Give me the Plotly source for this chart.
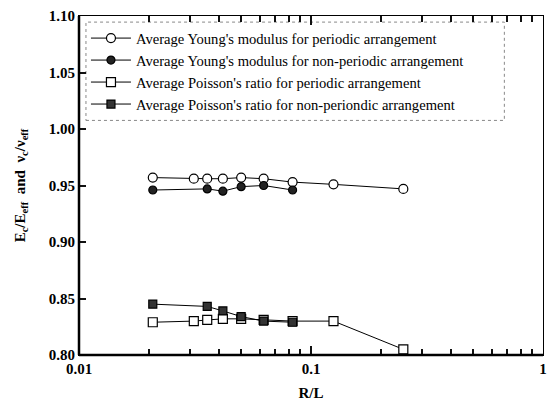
import plotly.graph_objects as go

# Data
rl_periodic = [0.0208, 0.03125, 0.0357, 0.0417, 0.05, 0.0625, 0.0833, 0.125, 0.25]
rl_nonperiodic = [0.0208, 0.0357, 0.0417, 0.05, 0.0625, 0.0833]

young_periodic = [0.957, 0.956, 0.956, 0.956, 0.957, 0.956, 0.953, 0.951, 0.947]
young_nonperiodic = [0.946, 0.947, 0.945, 0.949, 0.950, 0.946]
poisson_periodic = [0.829, 0.830, 0.831, 0.832, 0.832, 0.831, 0.830, 0.830, 0.805]
poisson_nonperiodic = [0.845, 0.843, 0.839, 0.834, 0.830, 0.829]

names = [
    "Average Young's modulus for periodic arrangement",
    "Average Young's modulus for non-periodic arrangement",
    "Average Poisson's ratio for periodic arrangement",
    "Average Poisson's ratio for non-periondic arrangement",
]

x_major = [0.01, 0.1, 1]
x_major_text = ["<b>0.01</b>", "<b>0.1</b>", "<b>1</b>"]
x_minor = [0.02, 0.03, 0.04, 0.05, 0.06, 0.07, 0.08, 0.09,
           0.2, 0.3, 0.4, 0.5, 0.6, 0.7, 0.8, 0.9]
y_ticks = [0.80, 0.85, 0.90, 0.95, 1.00, 1.05, 1.10]

FF = "Liberation Serif"

fig = go.Figure()
fig.add_trace(go.Scatter(
    x=rl_periodic, y=young_periodic, name=names[0], mode="lines+markers",
    line=dict(color="black", width=1),
    marker=dict(symbol="circle", size=9, color="white", line=dict(color="black", width=1.2))))
fig.add_trace(go.Scatter(
    x=rl_nonperiodic, y=young_nonperiodic, name=names[1], mode="lines+markers",
    line=dict(color="black", width=1),
    marker=dict(symbol="circle", size=8, color="#222222", line=dict(color="black", width=1.2))))
fig.add_trace(go.Scatter(
    x=rl_periodic, y=poisson_periodic, name=names[2], mode="lines+markers",
    line=dict(color="black", width=1),
    marker=dict(symbol="square", size=9, color="white", line=dict(color="black", width=1.2))))
fig.add_trace(go.Scatter(
    x=rl_nonperiodic, y=poisson_nonperiodic, name=names[3], mode="lines+markers",
    line=dict(color="black", width=1),
    marker=dict(symbol="square", size=8, color="#333333", line=dict(color="black", width=1.2))))

fig.update_layout(
    width=555, height=414,
    margin=dict(l=79, r=8, t=14, b=59),
    paper_bgcolor="white", plot_bgcolor="white",
    font=dict(family=FF, color="black", size=15),
    showlegend=True,
    legend=dict(
        x=0.015, y=0.982, xanchor="left", yanchor="top",
        bgcolor="rgba(0,0,0,0)", borderwidth=0,
        font=dict(family=FF, size=14.6, color="black"),
        tracegroupgap=0, itemwidth=40,
    ),
    xaxis=dict(
        type="log", range=[-2, 0],
        tickmode="array", tickvals=x_major, ticktext=x_major_text,
        ticks="inside", ticklen=9, tickwidth=2, tickcolor="#111111",
        minor=dict(tickmode="array", tickvals=x_minor, ticks="inside", ticklen=6,
                   tickwidth=2, tickcolor="#111111", showgrid=False),
        showline=True, linecolor="black", linewidth=1, mirror="ticks",
        showgrid=False, zeroline=False,
        tickfont=dict(family=FF, size=15, color="black"),
        title=dict(text="<b>R/L</b>", font=dict(family=FF, size=15, color="black"), standoff=11),
    ),
    yaxis=dict(
        range=[0.80, 1.10],
        tickmode="array", tickvals=y_ticks, ticktext=["<b>%.2f</b>" % v for v in y_ticks],
        ticks="inside", ticklen=7, tickwidth=2, tickcolor="#111111",
        showline=True, linecolor="black", linewidth=1, mirror=True,
        showgrid=False, zeroline=False,
        tickfont=dict(family=FF, size=15, color="black"),
        title=dict(text="<b>E<sub>c</sub>/E<sub>eff</sub>  and  \u03bd<sub>c</sub>/\u03bd<sub>eff</sub></b>",
                   font=dict(family=FF, size=15, color="black"), standoff=19),
    ),
    shapes=[
        dict(type="rect", xref="paper", yref="paper", x0=0.015, x1=0.9167, y0=0.692, y1=0.982,
             line=dict(color="#888888", width=1, dash="dot"), fillcolor="rgba(0,0,0,0)", layer="below"),
        dict(type="line", xref="paper", yref="paper", x0=0, y0=0, x1=1, y1=0,
             line=dict(color="black", width=2.5)),
        dict(type="line", xref="paper", yref="paper", x0=0, y0=0, x1=0, y1=1,
             line=dict(color="black", width=2.5)),
    ],
)

fig.write_html(
    "out.html",
    config={"displayModeBar": False},
    post_script="document.body.style.margin='0';document.body.style.overflow='hidden';",
)
